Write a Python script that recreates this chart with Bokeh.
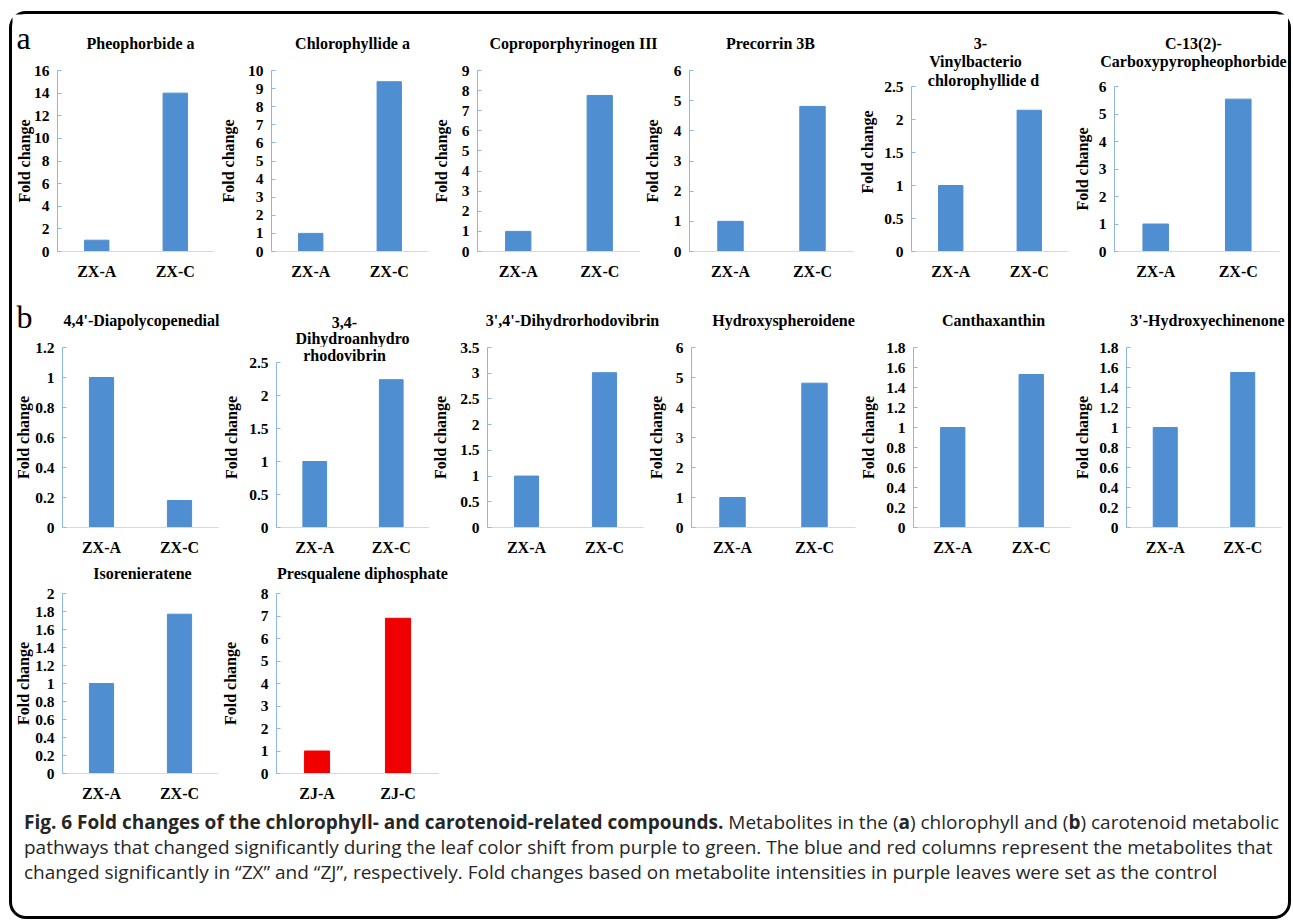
from bokeh.plotting import figure
from bokeh.models import FactorRange, Range1d, FixedTicker, Label, Div, NumeralTickFormatter, Spacer
from bokeh.layouts import row, column
from bokeh.embed import file_html
from bokeh.resources import INLINE

# ---------------- data ----------------
titles = [
    ["Pheophorbide a"], ["Chlorophyllide a"], ["Coproporphyrinogen III"], ["Precorrin 3B"],
    ["3-", "Vinylbacterio", "chlorophyllide d"], ["C-13(2)-", "Carboxypyropheophorbide"],
    ["4,4'-Diapolycopenedial"], ["3,4-", "Dihydroanhydro", "rhodovibrin"],
    ["3',4'-Dihydrorhodovibrin"], ["Hydroxyspheroidene"], ["Canthaxanthin"],
    ["3'-Hydroxyechinenone"], ["Isorenieratene"], ["Presqualene diphosphate"],
]
zx_cats = ["ZX-A", "ZX-C"]
zj_cats = ["ZJ-A", "ZJ-C"]
categories = [zx_cats] * 13 + [zj_cats]
purple_values = [1, 1, 1, 1, 1, 1, 1, 1, 1, 1, 1, 1, 1, 1]
green_values = [14.0, 9.38, 7.76, 4.81, 2.14, 5.54, 0.18, 2.24, 3.01, 4.81, 1.53, 1.55, 1.77, 6.9]
y_max = [16, 10, 9, 6, 2.5, 6, 1.2, 2.5, 3.5, 6, 1.8, 1.8, 2, 8]
y_step = [2, 1, 1, 1, 0.5, 1, 0.2, 0.5, 0.5, 1, 0.2, 0.2, 0.2, 1]
series = ["ZX"] * 13 + ["ZJ"]
y_label = "Fold change"
panel_letters = ["a", "b"]
caption_bold = "Fig. 6 Fold changes of the chlorophyll- and carotenoid-related compounds."
caption_lines = [
    " Metabolites in the (<b>a</b>) chlorophyll and (<b>b</b>) carotenoid metabolic",
    "pathways that changed significantly during the leaf color shift from purple to green. The blue and red columns represent the metabolites that",
    "changed significantly in \u201cZX\u201d and \u201cZJ\u201d, respectively. Fold changes based on metabolite intensities in purple leaves were set as the control",
]

# ---------------- styles / layout (page pixel coordinates) ----------------
COLORS = {"ZX": "#4F8ED0", "ZJ": "#F00000"}
SERIF = "Liberation Serif"
Y_AXIS_COLOR = "#8DB8E6"
X_AXIS_COLOR = "#D9D9D9"
OX, OY = 12, 14          # top-left of the framed content
CW, CH = 1276, 902       # size of the framed content

# figure boxes (x0, x1, y0, y1), frames (L, R, T, B), page y of the top tick
boxes = [
    (12, 216, 61, 290), (216, 429, 61, 290), (429, 640, 61, 290), (640, 856, 61, 290),
    (856, 1070, 52, 290), (1070, 1288, 77, 290),
    (12, 220, 338, 558), (220, 429, 347, 558),
    (429, 644, 338, 558), (644, 857, 338, 558), (857, 1071, 338, 558), (1071, 1288, 338, 558),
    (12, 218, 584, 805), (218, 460, 584, 805),
]
frames = [
    (52, 214, 70, 251), (266, 428, 70, 251), (472, 640, 70, 251), (684, 853, 70, 251),
    (908, 1068, 52, 251), (1110, 1279, 86, 251),
    (58, 218, 347, 527), (271, 429, 347, 527),
    (483, 643, 347, 527), (687, 855, 347, 527), (909, 1070, 347, 527), (1122, 1281, 347, 527),
    (58, 218, 593, 773), (271, 438, 593, 773),
]
axis_top = [70, 70, 70, 70, 86, 86, 347, 362, 347, 347, 347, 347, 593, 593]
ylabel_standoff = [-2, 8, 9, 10, 5, 5, 0, 6, 8, 8, 6, 5, 0, 19]

strip_boxes = {
    "a": (12, 856, 14, 61), "5": (856, 1070, 14, 52), "6": (1070, 1288, 14, 77),
    "7": (12, 220, 290, 338), "8": (220, 429, 290, 347), "9": (429, 1288, 290, 338),
    "c": (12, 460, 558, 584),
}
# title line positions (x, y) and host ("f" = inside the chart's own frame)
title_pos = [
    [(140, 43)], [(352, 43)], [(573, 43)], [(770, 43)],
    [(980, 43), (972, 61), (980, 80)], [(1193, 43), (1193, 61)],
    [(141, 320)], [(344, 322), (352, 338), (339, 355)],
    [(572, 320)], [(783, 320)], [(993, 320)], [(1207, 320)],
    [(142, 573)], [(362, 573)],
]
title_host = [
    ["a"], ["a"], ["a"], ["a"], ["5", "f", "f"], ["6", "6"],
    ["7"], ["8", "8", "f"], ["9"], ["9"], ["9"], ["9"], ["c"], ["c"],
]
letter_pos = [("a", 16, 37), ("7", 16, 316)]
TITLE_SIZE = "16px"


def put(p, origin, px, py, text, size, bold=True, align="center", baseline="middle",
        font=SERIF, color="black"):
    ox, oy = origin  # page position of the frame's bottom-left corner
    p.add_layout(Label(x=px - ox, y=oy - py, x_units="screen", y_units="screen",
                       text=text, text_align=align, text_baseline=baseline,
                       text_font=font, text_font_size=size,
                       text_font_style="bold" if bold else "normal", text_color=color))


def make_strip(box):
    x0, x1, y0, y1 = box
    p = figure(width=x1 - x0, height=y1 - y0, x_range=Range1d(0, 1), y_range=Range1d(0, 1),
               x_axis_type=None, y_axis_type=None, toolbar_location=None,
               output_backend="svg", min_border=0, title=None, frame_align=False)
    p.outline_line_color = None
    p.grid.visible = False
    return p


strips = {k: make_strip(b) for k, b in strip_boxes.items()}

figs = []
for i in range(14):
    x0, x1, y0, y1 = boxes[i]
    L, R, T, B = frames[i]
    cats = categories[i]
    y_end = y_max[i] * (B - T) / (B - axis_top[i])
    p = figure(width=x1 - x0, height=y1 - y0, x_range=FactorRange(*cats),
               y_range=Range1d(0, y_end), toolbar_location=None, output_backend="svg",
               title=None, frame_align=False,
               min_border_left=L - x0, min_border_right=x1 - R,
               min_border_top=T - y0, min_border_bottom=y1 - B)
    p.outline_line_color = None
    p.grid.visible = False
    p.vbar(x=cats, top=[purple_values[i], green_values[i]], width=0.31,
           color=COLORS[series[i]], line_color=COLORS[series[i]])
    n = int(round(y_max[i] / y_step[i]))
    ya = p.yaxis[0]
    ya.ticker = FixedTicker(ticks=[round(k * y_step[i], 6) for k in range(n + 1)])
    ya.bounds = (0, y_max[i])
    ya.formatter = NumeralTickFormatter(format="0.[0]")
    ya.axis_line_color = Y_AXIS_COLOR
    ya.major_tick_line_color = Y_AXIS_COLOR
    ya.major_tick_in = 4
    ya.major_tick_out = 0
    ya.minor_tick_line_color = None
    ya.major_label_standoff = 8
    ya.major_label_text_font = SERIF
    ya.major_label_text_font_style = "bold"
    ya.major_label_text_font_size = "15.5px"
    ya.major_label_text_color = "black"
    ya.axis_label = y_label
    ya.axis_label_standoff = ylabel_standoff[i]
    ya.axis_label_text_font = SERIF
    ya.axis_label_text_font_style = "bold"
    ya.axis_label_text_font_size = "16px"
    ya.axis_label_text_color = "black"
    xa = p.xaxis[0]
    xa.axis_line_color = X_AXIS_COLOR
    xa.major_tick_line_color = None
    xa.minor_tick_line_color = None
    xa.major_label_standoff = 5
    xa.major_label_text_font = SERIF
    xa.major_label_text_font_style = "bold"
    xa.major_label_text_font_size = "16px"
    xa.major_label_text_color = "black"
    figs.append(p)

for i in range(14):
    L, R, T, B = frames[i]
    for (tx, ty), line, host in zip(title_pos[i], titles[i], title_host[i]):
        if host == "f":
            put(figs[i], (L, B), tx, ty, line, TITLE_SIZE)
        else:
            sx0, sx1, sy0, sy1 = strip_boxes[host]
            put(strips[host], (sx0, sy1), tx, ty, line, TITLE_SIZE)

# panel letters
for letter, (host, lx, ly) in zip(panel_letters, letter_pos):
    sx0, sx1, sy0, sy1 = strip_boxes[host]
    put(strips[host], (sx0, sy1), lx, ly, letter, "32px", bold=False, align="left")

caption_html = ("<b>" + caption_bold + "</b>" + caption_lines[0] + "<br>" +
                caption_lines[1] + "<br>" + caption_lines[2])
caption = Div(text=caption_html, width=CW, height=916 - 805,
              styles={"font-family": "Open Sans", "font-size": "19px", "line-height": "25px",
                      "padding-left": "7px", "padding-top": "0px", "white-space": "nowrap",
                      "color": "#262626"})

row_a = row(column(strips["a"], row(figs[0], figs[1], figs[2], figs[3])),
            column(strips["5"], figs[4]), column(strips["6"], figs[5]))
row_b = row(column(strips["7"], figs[6]), column(strips["8"], figs[7]),
            column(strips["9"], row(figs[8], figs[9], figs[10], figs[11])))
row_c = column(strips["c"], row(figs[12], figs[13]))

content = column(row_a, row_b, row_c, caption, width=CW, height=CH,
                 styles={"outline": "3px solid black", "outline-offset": "0px",
                         "border-radius": "14px"})
page = row(Spacer(width=OX), column(Spacer(height=OY), content))

open("out.html", "w").write(file_html(page, INLINE))
